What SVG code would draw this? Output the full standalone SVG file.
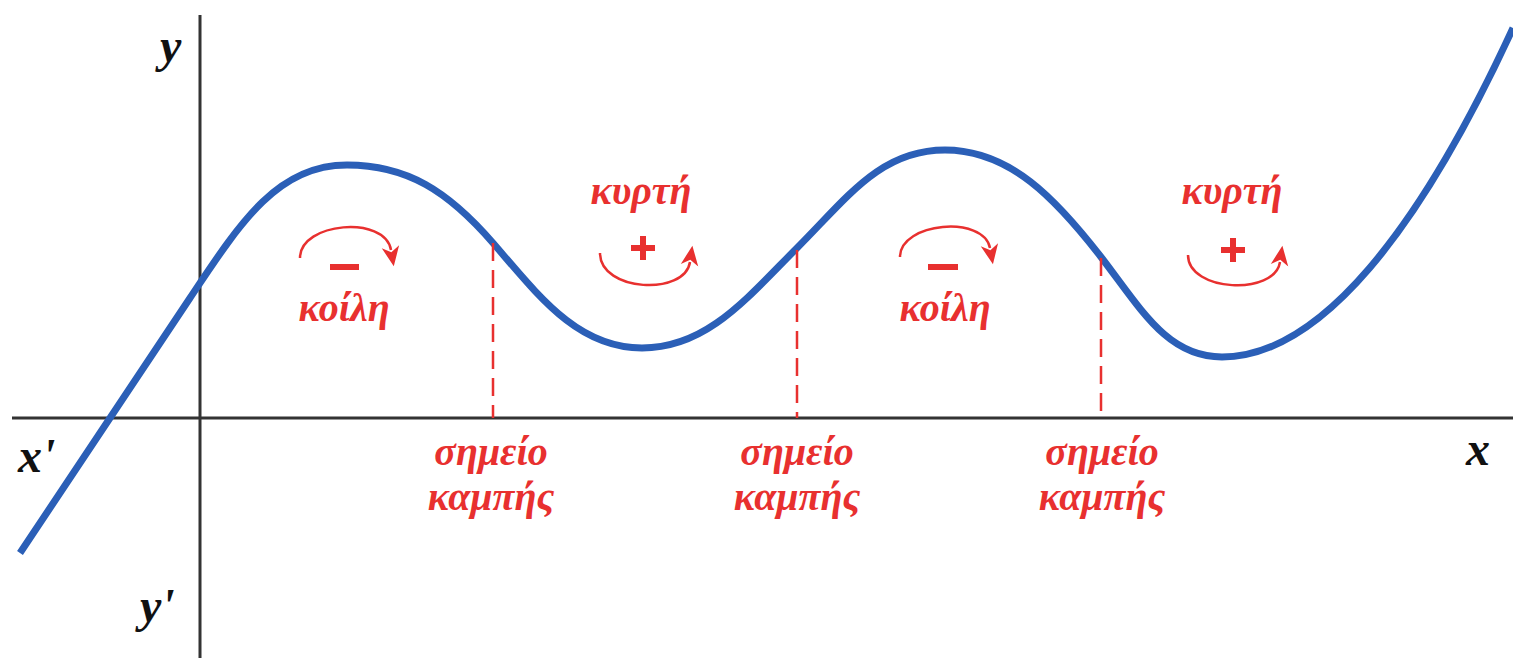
<svg xmlns="http://www.w3.org/2000/svg" width="1513" height="658" viewBox="0 0 1513 658">
<style>
.axis{stroke:#333;stroke-width:3;fill:none}
.curve{stroke:#2b5fb7;stroke-width:7;fill:none;stroke-linecap:butt}
.dash{stroke:#e8302f;stroke-width:2.5;stroke-dasharray:18 9;fill:none}
.arc{stroke:#e8302f;stroke-width:2.5;fill:none}
.sign{stroke:#e8302f;stroke-width:6;fill:none}
.lbl{font-family:"Liberation Serif",serif;font-style:italic;font-weight:bold;fill:#e8302f;text-anchor:middle;font-size:40px}
.ax{font-family:"Liberation Serif",serif;font-style:italic;font-weight:bold;fill:#111;font-size:48px}
</style>
<defs>
<marker id="ah" viewBox="0 0 20 20" markerWidth="22" markerHeight="22" markerUnits="userSpaceOnUse" refX="3" refY="10" orient="auto">
<path d="M0,2 L18,10 L0,18 L5,10 Z" fill="#e8302f"/>
</marker>
</defs>
<g id="axes">
<line class="axis" x1="12" y1="418" x2="1513" y2="418"/>
<line class="axis" x1="200" y1="15" x2="200" y2="658"/>
<text class="ax" x="160" y="62">y</text>
<text class="ax" x="18" y="472">x'</text>
<text class="ax" x="140" y="622">y'</text>
<text class="ax" x="1466" y="465">x</text>
</g>
<g id="curve">
<path class="curve" d="M20,553 C80,463 140,373 190,298 C240,223 277,165 347,165 C407,165 448,191 493,243 C538,295 577,348 642,348 C707,348 747,298 797,248 C847,198 880,150 945,150 C1010,150 1056,199 1101,257 C1141,309 1167,357 1222,357 C1320,357 1420,230 1513,28"/>
</g>
<g id="connectors">
<line class="dash" x1="493" y1="243" x2="493" y2="418"/>
<line class="dash" x1="797" y1="250" x2="797" y2="418"/>
<line class="dash" x1="1101" y1="258" x2="1101" y2="418"/>
</g>
<g id="concave1">
<path class="arc" d="M300,258 C300,222 385,215 391,250" marker-end="url(#ah)"/>
<line class="sign" x1="330" y1="267" x2="359" y2="267"/>
<text class="lbl" x="344" y="321">κοίλη</text>
</g>
<g id="convex1">
<text class="lbl" x="641" y="204">κυρτή</text>
<line class="sign" x1="631" y1="248" x2="655" y2="248" stroke-width="5"/>
<line class="sign" x1="643" y1="236" x2="643" y2="260" stroke-width="5"/>
<path class="arc" d="M600,253 C600,292 685,296 690,262" marker-end="url(#ah)"/>
</g>
<g id="concave2">
<path class="arc" d="M900,257 C900,222 984,215 990,248" marker-end="url(#ah)"/>
<line class="sign" x1="928" y1="267" x2="958" y2="267"/>
<text class="lbl" x="945" y="321">κοίλη</text>
</g>
<g id="convex2">
<text class="lbl" x="1232" y="204">κυρτή</text>
<line class="sign" x1="1221" y1="250" x2="1245" y2="250" stroke-width="5"/>
<line class="sign" x1="1233" y1="238" x2="1233" y2="262" stroke-width="5"/>
<path class="arc" d="M1188,255 C1188,292 1275,296 1280,262" marker-end="url(#ah)"/>
</g>
<g id="inflection1">
<text class="lbl" x="491" y="465">σημείο</text>
<text class="lbl" x="491" y="510">καμπής</text>
</g>
<g id="inflection2">
<text class="lbl" x="797" y="465">σημείο</text>
<text class="lbl" x="797" y="510">καμπής</text>
</g>
<g id="inflection3">
<text class="lbl" x="1102" y="465">σημείο</text>
<text class="lbl" x="1102" y="510">καμπής</text>
</g>
</svg>
